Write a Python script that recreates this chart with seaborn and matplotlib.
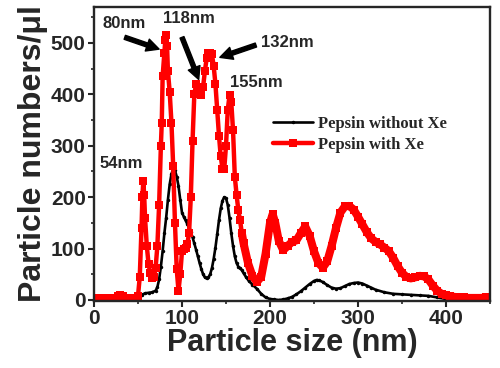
import matplotlib
matplotlib.use('Agg')
import matplotlib.pyplot as plt
import seaborn as sns
from matplotlib.ticker import MultipleLocator

# Pepsin without Xe (black)
black_x = [0, 10, 20, 30, 40, 50, 54, 58, 62, 66, 70, 72, 74, 76, 78, 80, 82, 84, 86, 88,
           90, 92, 94, 96, 98, 100, 102, 104, 106, 108, 110, 112, 114, 116, 118, 120, 122,
           124, 126, 128, 130, 132, 134, 136, 138, 140, 142, 144, 146, 148, 150, 152, 154,
           156, 158, 160, 162, 164, 166, 168, 170, 173, 176, 180, 185, 190, 195, 200, 205,
           210, 215, 220, 225, 230, 235, 240, 245, 250, 253, 256, 260, 265, 270, 275, 280,
           285, 290, 295, 300, 305, 310, 315, 320, 330, 340, 350, 360, 370, 380, 390, 400,
           410, 420, 435, 450]
black_y = [0, 0, 0, 1, 1, 4, 10, 13, 14, 15, 18, 25, 40, 65, 95, 130, 160, 195, 225, 245,
           255, 252, 240, 222, 195, 170, 162, 155, 148, 140, 132, 122, 110, 98, 85, 72, 60,
           50, 44, 42, 44, 50, 62, 80, 102, 128, 155, 178, 193, 200, 198, 185, 160,
           130, 105, 85, 72, 65, 62, 58, 52, 44, 37, 30, 22, 12, 5, 2, 1,
           0, 1, 3, 6, 11, 17, 24, 31, 37, 39, 38, 35, 29, 24, 22, 23,
           27, 31, 33, 34, 32, 28, 24, 20, 15, 12, 11, 10, 9, 8, 5, 2,
           1, 0, 0, 0]

# Pepsin with Xe (red)
red_x = [0, 5, 10, 15, 20, 24, 27, 30, 33, 36, 40, 44, 48, 50, 52, 54, 55, 56, 57, 58,
         60, 62, 64, 66, 68, 70, 72, 74, 76, 77, 78, 80, 81, 82, 83, 84, 86, 88, 90, 92,
         94, 96, 98, 100, 102, 104, 106, 108, 110, 112, 114, 116, 118, 120, 122, 124, 126,
         128, 130, 132, 134, 136, 138, 140, 142, 144, 146, 148, 150, 152, 154, 156, 158,
         160, 162, 164, 166, 168, 170, 175, 180, 185, 190, 195, 200, 203, 206, 210, 215,
         220, 225, 230, 235, 240, 245, 250, 255, 260, 265, 270, 275, 280, 285, 290, 295,
         300, 305, 310, 315, 320, 325, 330, 335, 340, 345, 350, 355, 360, 365, 370, 375,
         380, 385, 390, 395, 400, 405, 410, 415, 420, 425, 430, 435, 440, 445, 450]
red_y = [3, 3, 3, 3, 3, 4, 8, 9, 8, 4, 3, 3, 4, 8, 45, 140, 200, 232, 205, 160,
         105, 70, 52, 42, 45, 62, 105, 185, 300, 345, 435, 480, 505, 515, 495, 445, 405, 345, 260, 150,
         60, 18, 50, 95, 100, 102, 108, 130, 200, 310, 400, 420, 415, 400, 398, 415, 445,
         470, 480, 481, 478, 455, 420, 370, 320, 280, 255, 255, 300, 370, 398, 385, 330,
         240, 205, 175, 155, 130, 110, 72, 47, 35, 45, 90, 150, 167, 150, 115, 97,
         105, 113, 116, 130, 143, 125, 95, 72, 63, 75, 105, 140, 170, 182, 183, 176,
         162, 147, 132, 120, 113, 108, 102, 95, 82, 66, 53, 45, 42, 44, 47, 46,
         40, 28, 18, 12, 9, 7, 6, 5, 5, 4, 4, 4, 4, 5, 5]

sns.set_style('ticks')
plt.rcParams['font.family'] = ['Liberation Sans', 'DejaVu Sans']
plt.rcParams['font.weight'] = 'bold'

fig = plt.figure(figsize=(5, 3.68), dpi=100)
ax = fig.add_axes([0.188, 0.182, 0.792, 0.799])

sns.lineplot(x=black_x, y=black_y, ax=ax, color='black', marker='o', markersize=2.5,
             markeredgewidth=0, linewidth=1.9, label='Pepsin without Xe')
sns.lineplot(x=red_x, y=red_y, ax=ax, color='red', marker='s', markersize=5.5,
             markeredgewidth=0, linewidth=3.2, label='Pepsin with Xe')
# beyond ~170 nm the dense markers merge into one thick band
tail = [i for i, v in enumerate(red_x) if v >= 168]
ax.plot([red_x[i] for i in tail], [red_y[i] for i in tail], color='red',
        linewidth=5.8, solid_capstyle='round', solid_joinstyle='round')

ax.set_xlim(0, 450)
ax.set_ylim(-2, 570)
ax.xaxis.set_major_locator(MultipleLocator(100))
ax.xaxis.set_minor_locator(MultipleLocator(50))
ax.yaxis.set_major_locator(MultipleLocator(100))
ax.yaxis.set_minor_locator(MultipleLocator(50))
for s in ax.spines.values():
    s.set_linewidth(1.7)
    s.set_visible(True)
ax.tick_params(which='major', direction='out', length=4, width=1.5, labelsize=15, pad=2)
ax.tick_params(which='minor', direction='out', length=2.5, width=1.2)
for lab in ax.get_xticklabels() + ax.get_yticklabels():
    lab.set_fontweight('bold')

ax.set_xlabel('Particle size (nm)', fontsize=22, fontweight='bold', labelpad=0)
ax.set_ylabel('Particle numbers/μl', fontsize=23, fontweight='bold', labelpad=2)

ax.legend(loc='center left', bbox_to_anchor=(0.452, 0.567), frameon=False,
          borderaxespad=0, borderpad=0, handlelength=2.4, handletextpad=0.3,
          labelspacing=0.3, prop={'family': 'Liberation Serif', 'weight': 'bold', 'size': 12})

# peak labels and arrows
arrow = dict(facecolor='black', edgecolor='black', width=3, headwidth=9, headlength=9, shrink=0)
ax.annotate('', xy=(74, 488), xytext=(35, 511), arrowprops=arrow)
ax.annotate('', xy=(119, 429), xytext=(100, 511), arrowprops=arrow)
ax.annotate('', xy=(143, 472), xytext=(184, 496), arrowprops=arrow)
ax.text(34, 537, '80nm', fontsize=12, fontweight='bold', ha='center', va='center')
ax.text(108, 548, '118nm', fontsize=12, fontweight='bold', ha='center', va='center')
ax.text(220, 500, '132nm', fontsize=12, fontweight='bold', ha='center', va='center')
ax.text(185, 423, '155nm', fontsize=12, fontweight='bold', ha='center', va='center')
ax.text(31, 265, '54nm', fontsize=12, fontweight='bold', ha='center', va='center')

fig.savefig('out.png', dpi=100)
